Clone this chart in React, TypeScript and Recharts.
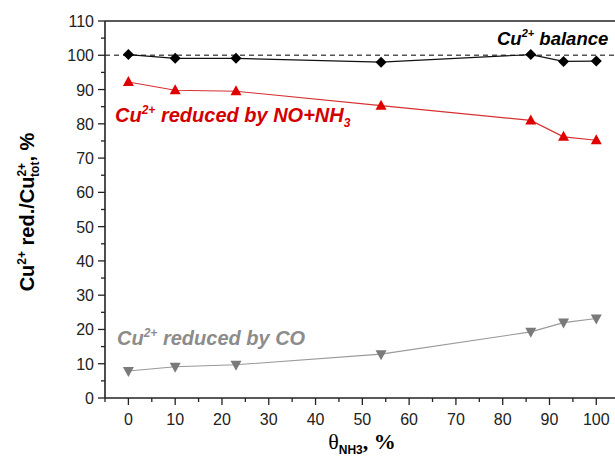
import React from "react";
import { LineChart, Line, XAxis, YAxis, ReferenceLine, Customized } from "recharts";

const xValues = [0, 10, 23, 54, 86, 93, 100];
const balanceValues = [100.2, 99.1, 99.1, 98.0, 100.2, 98.2, 98.3];
const reducedNOValues = [92.2, 89.8, 89.5, 85.3, 81.0, 76.2, 75.2];
const reducedCOValues = [7.9, 9.1, 9.7, 12.8, 19.3, 22.0, 23.2];
const xTicks = [-5, 0, 5, 10, 15, 20, 25, 30, 35, 40, 45, 50, 55, 60, 65, 70, 75, 80, 85, 90, 95, 100];
const yTicks = [0, 5, 10, 15, 20, 25, 30, 35, 40, 45, 50, 55, 60, 65, 70, 75, 80, 85, 90, 95, 100, 105, 110];

const data = xValues.map((x, i) => ({
  x,
  balance: balanceValues[i],
  no: reducedNOValues[i],
  co: reducedCOValues[i],
}));

const FONT = "'Liberation Sans', Arial, sans-serif";
const AXIS = "#222";

const XTick = (props: any) => {
  const { x, y, payload } = props;
  const v = payload.value;
  const major = v % 10 === 0;
  return (
    <g>
      <line x1={x} x2={x} y1={y} y2={y + (major ? 7 : 4)} stroke={AXIS} strokeWidth={1.3} />
      {major && (
        <text x={x} y={y + 27} textAnchor="middle" fontSize={16} fill="#222" fontFamily={FONT}>
          {v}
        </text>
      )}
    </g>
  );
};

const YTick = (props: any) => {
  const { x, y, payload } = props;
  const v = payload.value;
  const major = v % 10 === 0;
  return (
    <g>
      <line x1={x} x2={x - (major ? 7 : 4)} y1={y} y2={y} stroke={AXIS} strokeWidth={1.3} />
      {major && (
        <text x={x - 11} y={y + 6} textAnchor="end" fontSize={16} fill="#222" fontFamily={FONT}>
          {v}
        </text>
      )}
    </g>
  );
};

const diamondDot = (props: any) => {
  const { cx, cy, index } = props;
  const s = 5.5;
  return (
    <path
      key={`d-${index}`}
      d={`M${cx},${cy - s}L${cx + s},${cy}L${cx},${cy + s}L${cx - s},${cy}Z`}
      fill="#000"
    />
  );
};

const upDot = (props: any) => {
  const { cx, cy, index } = props;
  return (
    <path
      key={`u-${index}`}
      d={`M${cx},${cy - 6}L${cx + 5.5},${cy + 4}L${cx - 5.5},${cy + 4}Z`}
      fill="#e00000"
    />
  );
};

const downDot = (props: any) => {
  const { cx, cy, index } = props;
  return (
    <path
      key={`v-${index}`}
      d={`M${cx},${cy + 6}L${cx + 5.5},${cy - 4}L${cx - 5.5},${cy - 4}Z`}
      fill="#7a7a7a"
    />
  );
};

const Annotations = () => (
  <g fontFamily={FONT}>
    <text x={497} y={45} fill="#000" fontSize={18.5} fontWeight="bold" fontStyle="italic">
      Cu<tspan dy={-8} fontSize={11}>2+</tspan>
      <tspan dy={8}> balance</tspan>
    </text>
    <text x={115} y={122} fill="#d40000" fontSize={20} fontWeight="bold" fontStyle="italic">
      Cu<tspan dy={-8} fontSize={12}>2+</tspan>
      <tspan dy={8}> reduced by NO+NH</tspan>
      <tspan dy={5} fontSize={12}>3</tspan>
    </text>
    <text x={117} y={345} fill="#8c8c8c" fontSize={20} fontWeight="bold" fontStyle="italic">
      Cu<tspan dy={-8} fontSize={12}>2+</tspan>
      <tspan dy={8}> reduced by CO</tspan>
    </text>
    <text
      x={34}
      y={212}
      transform="rotate(-90 34 212)"
      textAnchor="middle"
      fontSize={20}
      fontWeight="bold"
      fill="#000"
    >
      Cu<tspan dy={-8} fontSize={12}>2+</tspan>
      <tspan dy={8}> red./Cu</tspan>
      <tspan dy={-8} fontSize={12}>2+</tspan>
      <tspan dx={-14} dy={13} fontSize={12}>tot</tspan>
      <tspan dy={-5}>, %</tspan>
    </text>
    <text x={362} y={449} textAnchor="middle" fill="#000" fontFamily="'Liberation Serif', serif" fontSize={22}>
      θ<tspan dy={5} fontSize={12} fontWeight="bold" fontFamily={FONT}>NH3</tspan>
      <tspan dy={-5} fontWeight="bold">, %</tspan>
    </text>
  </g>
);

export default function App() {
  return (
    <div style={{ position: "absolute", left: 0, top: 0, width: 615, height: 463, background: "#fff" }}>
      <LineChart
        width={615}
        height={463}
        data={data}
        margin={{ top: 21, right: 0, bottom: 25, left: 45 }}
        style={{ fontFamily: FONT }}
      >
        <XAxis
          dataKey="x"
          type="number"
          domain={[-5, 104]}
          ticks={xTicks}
          interval={0}
          allowDataOverflow
          height={40}
          tickSize={0}
          tickMargin={0}
          tickLine={false}
          axisLine={{ stroke: AXIS, strokeWidth: 1.6 }}
          tick={<XTick />}
        />
        <YAxis
          type="number"
          domain={[0, 110]}
          ticks={yTicks}
          interval={0}
          width={60}
          tickSize={0}
          tickMargin={0}
          tickLine={false}
          axisLine={{ stroke: AXIS, strokeWidth: 1.6 }}
          tick={<YTick />}
        />
        <ReferenceLine y={110} stroke={AXIS} strokeWidth={1.6} />
        <ReferenceLine y={100} stroke="#555" strokeWidth={1.3} strokeDasharray="5 4" />
        <Line
          dataKey="balance"
          stroke="#111"
          strokeWidth={1.2}
          dot={diamondDot}
          isAnimationActive={false}
        />
        <Line
          dataKey="no"
          stroke="#d63030"
          strokeWidth={1.1}
          dot={upDot}
          isAnimationActive={false}
        />
        <Line
          dataKey="co"
          stroke="#999"
          strokeWidth={1.1}
          dot={downDot}
          isAnimationActive={false}
        />
        <Customized component={Annotations} />
      </LineChart>
    </div>
  );
}
